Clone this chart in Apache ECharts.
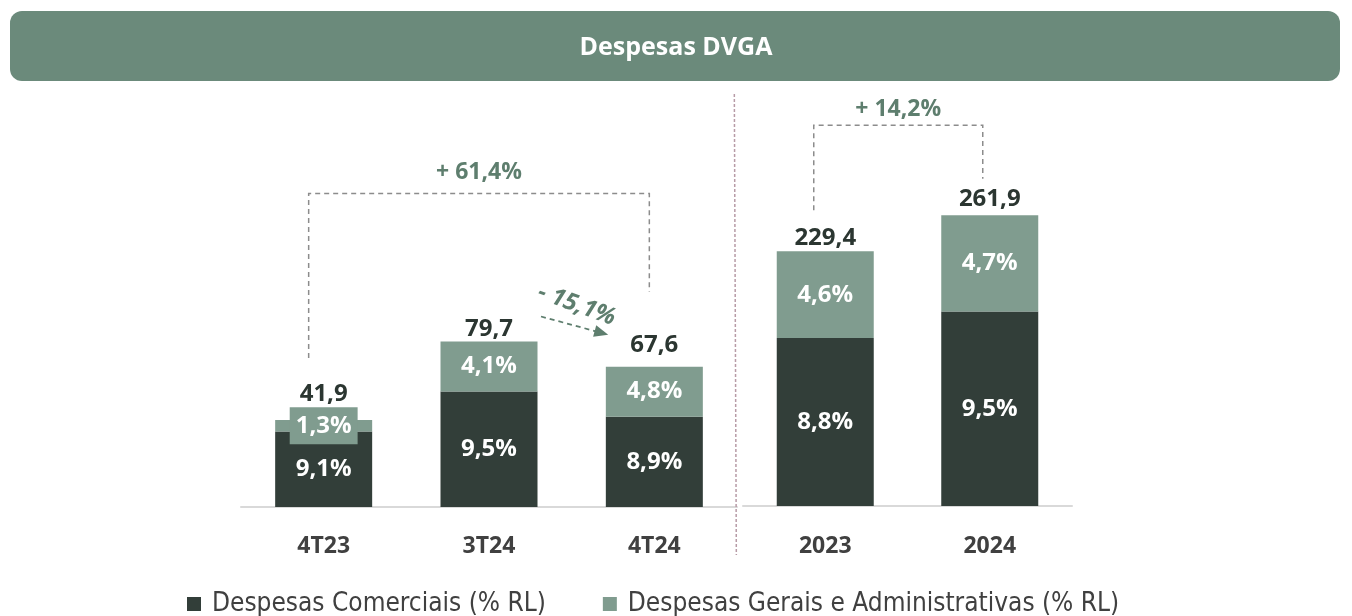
<!DOCTYPE html>
<html>
<head>
<meta charset="utf-8">
<script src="https://cdn.jsdelivr.net/npm/echarts@6/dist/echarts.min.js"></script>
<style>
html, body { margin: 0; padding: 0; background: #fff; }
#chart { width: 1352px; height: 616px; }
</style>
</head>
<body>
<div id="chart"></div>
<script>
// dados trimestrais (R$ milhões)
var trimestres = ['4T23', '3T24', '4T24'];
var comerciaisTri = [36.3, 55.6, 43.5];
var geraisTri = [5.6, 24.1, 24.1];
var totalTri = [41.9, 79.7, 67.6];
var pctComTri = ['9,1%', '9,5%', '8,9%'];
var pctGerTri = ['1,3%', '4,1%', '4,8%'];

// dados anuais
var anos = ['2023', '2024'];
var comerciaisAno = [151.2, 175.2];
var geraisAno = [78.2, 86.7];
var totalAno = [229.4, 261.9];
var pctComAno = ['8,8%', '9,5%'];
var pctGerAno = ['4,6%', '4,7%'];

// variações
var varTri = '+ 61,4%';
var varSeq = '- 15,1%';
var varAno = '+ 14,2%';

var corEscura = '#323e39';
var corClara = '#809c8f';
var corVerde = '#5e7e6e';
var fonte = "'Open Sans', sans-serif";

var myChart = echarts.init(document.getElementById('chart'));

function fmt(v) {
    return v.toFixed(1).replace('.', ',');
}

function rotuloInterno(textos) {
    return {
        show: true,
        position: 'inside',
        color: '#fff',
        fontFamily: fonte,
        fontWeight: 'bold',
        fontSize: 24,
        formatter: function (p) { return textos[p.dataIndex]; }
    };
}

// o rótulo 1,3% fica numa caixa maior que o segmento
var dadosGerTri = geraisTri.map(function (v, i) {
    if (i === 0) {
        return {
            value: v,
            label: { backgroundColor: corClara, padding: [7, 6, 6, 6] }
        };
    }
    return v;
});

var ajusteTotal = [26, 12, 21, 13, 16];

function totais(valores, desloc) {
    return valores.map(function (v, i) {
        return { value: v, label: { offset: [0, -desloc[i]] } };
    });
}

var rotuloTotal = {
    show: true, position: 'inside', color: '#2b3631',
    textBorderWidth: 0, textBorderColor: 'transparent',
    fontFamily: fonte, fontWeight: 'bold', fontSize: 24,
    formatter: function (p) { return fmt(p.value); }
};

var option = {
    animation: false,
    title: {
        text: 'Despesas DVGA',
        left: 'center',
        top: 30,
        z: 10,
        textStyle: { color: '#fff', fontFamily: fonte, fontWeight: 'bold', fontSize: 25 }
    },
    legend: {
        left: 182,
        top: 586,
        icon: 'rect',
        itemWidth: 14,
        itemHeight: 14,
        itemGap: 57,
        data: ['Despesas Comerciais (% RL)', 'Despesas Gerais e Administrativas (% RL)'],
        textStyle: {
            color: '#404040',
            fontFamily: "'Liberation Sans Narrow', 'DejaVu Sans Condensed', sans-serif",
            fontSize: 26,
            padding: [0, 0, 0, 6]
        }
    },
    grid: [
        { left: 241, width: 496, top: 100, height: 407 },
        { left: 743, width: 329, top: 100, height: 406 }
    ],
    xAxis: [
        {
            type: 'category',
            gridIndex: 0,
            data: trimestres,
            axisLine: { lineStyle: { color: '#d9d9d9', width: 2 } },
            axisTick: { show: false },
            axisLabel: { margin: 28, color: '#404040', fontFamily: fonte, fontWeight: 'bold', fontSize: 23 }
        },
        {
            type: 'category',
            gridIndex: 1,
            data: anos,
            axisLine: { lineStyle: { color: '#d9d9d9', width: 2 } },
            axisTick: { show: false },
            axisLabel: { margin: 29, color: '#404040', fontFamily: fonte, fontWeight: 'bold', fontSize: 23 }
        }
    ],
    yAxis: [
        { type: 'value', gridIndex: 0, min: 0, max: 196, show: false, splitLine: { show: false } },
        { type: 'value', gridIndex: 1, min: 0, max: 365.6, show: false, splitLine: { show: false } }
    ],
    series: [
        {
            name: 'Despesas Comerciais (% RL)',
            type: 'bar',
            stack: 'tri',
            xAxisIndex: 0,
            yAxisIndex: 0,
            barWidth: 97,
            itemStyle: { color: corEscura },
            label: rotuloInterno(pctComTri),
            data: comerciaisTri
        },
        {
            name: 'Despesas Gerais e Administrativas (% RL)',
            type: 'bar',
            stack: 'tri',
            xAxisIndex: 0,
            yAxisIndex: 0,
            barWidth: 97,
            itemStyle: { color: corClara },
            label: rotuloInterno(pctGerTri),
            data: dadosGerTri
        },
        {
            name: 'Despesas Comerciais (% RL)',
            type: 'bar',
            stack: 'ano',
            xAxisIndex: 1,
            yAxisIndex: 1,
            barWidth: 97,
            itemStyle: { color: corEscura },
            label: rotuloInterno(pctComAno),
            data: comerciaisAno
        },
        {
            name: 'Despesas Gerais e Administrativas (% RL)',
            type: 'bar',
            stack: 'ano',
            xAxisIndex: 1,
            yAxisIndex: 1,
            barWidth: 97,
            itemStyle: { color: corClara },
            label: rotuloInterno(pctGerAno),
            data: geraisAno
        },
        {
            name: 'totalTri',
            type: 'scatter',
            xAxisIndex: 0,
            yAxisIndex: 0,
            symbolSize: 0,
            itemStyle: { color: '#2b3631', opacity: 1 },
            label: rotuloTotal,
            data: totais(totalTri, ajusteTotal.slice(0, 3))
        },
        {
            name: 'totalAno',
            type: 'scatter',
            xAxisIndex: 1,
            yAxisIndex: 1,
            symbolSize: 0,
            itemStyle: { color: '#2b3631', opacity: 1 },
            label: rotuloTotal,
            data: totais(totalAno, ajusteTotal.slice(3))
        }
    ]
};
myChart.setOption(option);

// anotações posicionadas a partir das barras
function px(g, i, v) {
    return myChart.convertToPixel({ xAxisIndex: g, yAxisIndex: g }, [i, v]);
}
var p0 = px(0, 0, totalTri[0]);
var p1 = px(0, 1, totalTri[1]);
var p2 = px(0, 2, totalTri[2]);
var q0 = px(1, 0, totalAno[0]);
var q1 = px(1, 1, totalAno[1]);

var tracejado = { stroke: '#8c8c8c', lineWidth: 1.5, lineDash: [5, 4], fill: null };
var textoVar = { fill: corVerde, font: 'bold 23px ' + fonte, align: 'center', verticalAlign: 'middle' };

var bx0 = p0[0] - 15, bx1 = p2[0] - 5, by = p1[1] - 148;
var cx0 = q0[0] - 11.5, cx1 = q1[0] - 7, cy = q1[1] - 90;
var a0 = [p1[0] + 52, p1[1] - 25], a1 = [p2[0] - 50, p2[1] - 33];
var ang = Math.atan2(a1[1] - a0[1], a1[0] - a0[0]);
var sepX = p2[0] + 82;

myChart.setOption({
    graphic: [
        {
            type: 'rect', z: 0,
            shape: { x: 10, y: 11, width: 1330, height: 70, r: 12 },
            style: { fill: '#6b8a7b' }
        },
        {
            type: 'polyline', z: 5,
            shape: { points: [[bx0, p0[1] - 62], [bx0, by], [bx1, by], [bx1, p2[1] - 75]] },
            style: tracejado
        },
        {
            type: 'text', z: 5, x: (bx0 + bx1) / 2, y: by - 21,
            style: Object.assign({ text: varTri }, textoVar)
        },
        {
            type: 'polyline', z: 5,
            shape: { points: [[cx0, q0[1] - 41], [cx0, cy], [cx1, cy], [cx1, q1[1] - 36.5]] },
            style: tracejado
        },
        {
            type: 'text', z: 5, x: (cx0 + cx1) / 2, y: cy - 16,
            style: Object.assign({ text: varAno }, textoVar)
        },
        {
            type: 'line', z: 5,
            shape: { x1: a0[0], y1: a0[1], x2: a1[0] - 8 * Math.cos(ang), y2: a1[1] - 8 * Math.sin(ang) },
            style: { stroke: '#5e7e6e', lineWidth: 1.8, lineDash: [5, 4] }
        },
        {
            type: 'polygon', z: 5, x: a1[0], y: a1[1], rotation: -ang,
            shape: { points: [[4, 0], [-10, -6], [-10, 6]] },
            style: { fill: '#5e7e6e' }
        },
        {
            type: 'text', z: 5,
            x: (a0[0] + a1[0]) / 2 + 4, y: (a0[1] + a1[1]) / 2 - 20,
            rotation: -20 * Math.PI / 180,
            style: { text: varSeq, fill: corVerde, font: 'italic bold 24px ' + fonte, align: 'center', verticalAlign: 'middle' }
        },
        {
            type: 'line', z: 5,
            shape: { x1: sepX - 2, y1: 94, x2: sepX, y2: 555 },
            style: { stroke: '#b79ba6', lineWidth: 1.5, lineDash: [3, 2] }
        }
    ]
});
</script>
</body>
</html>
